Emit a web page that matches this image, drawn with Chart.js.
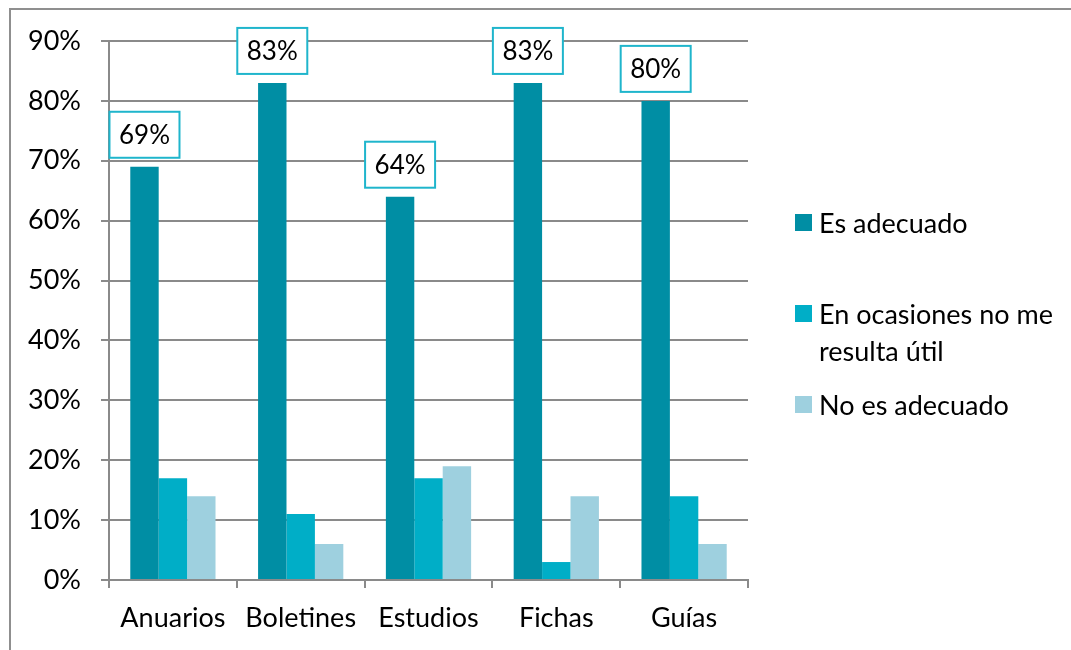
<!DOCTYPE html>
<html><head><meta charset="utf-8">
<script src="https://cdn.jsdelivr.net/npm/chart.js@4"></script>
<style>
html,body{margin:0;padding:0;background:#fff;overflow:hidden;}
#wrap{position:relative;width:1071px;height:650px;overflow:hidden;}
#frame{position:absolute;left:9px;top:8px;width:1100px;height:700px;border-left:2px solid #8f8f8f;border-top:2px solid #8f8f8f;}
#c{position:absolute;left:0;top:0;}
.lg{position:absolute;left:795px;display:flex;align-items:flex-start;font-family:Lato,sans-serif;font-size:27px;line-height:37px;color:#000;}
.lg .sw{width:17px;height:17px;margin-top:10px;margin-right:7px;flex:none;}
.lg .tx{width:260px;}
</style>
</head><body>
<div id="wrap">
<div id="frame"></div>
<canvas id="c" width="1071" height="650"></canvas>
<div id="legend"></div>
</div>
<script>
const categories = ['Anuarios','Boletines','Estudios','Fichas','Guías'];
const seriesNames = ['Es adecuado','En ocasiones no me resulta útil','No es adecuado'];
const esAdecuado = [69,83,64,83,80];
const enOcasiones = [17,11,17,3,14];
const noEsAdecuado = [14,6,19,14,6];
const yTicks = [0,10,20,30,40,50,60,70,80,90];
const colors = ['#008EA4','#00AEC7','#9ED0DF'];
const legendTops = [204,295,386];

const valueBoxPlugin = {
  id:'valueBoxes',
  afterDatasetsDraw(chart){
    const meta = chart.getDatasetMeta(0);
    const ctx = chart.ctx;
    ctx.save();
    ctx.font = '26px Lato';
    meta.data.forEach((bar,i)=>{
      const v = chart.data.datasets[0].data[i];
      const w = 70, h = 46;
      const x0 = bar.x - w/2, y0 = bar.y - 9 - h;
      ctx.fillStyle = '#fff';
      ctx.fillRect(x0,y0,w,h);
      ctx.strokeStyle = '#1FB5CC';
      ctx.lineWidth = 2;
      ctx.strokeRect(x0,y0,w,h);
      ctx.fillStyle = '#000';
      ctx.textAlign = 'center';
      ctx.textBaseline = 'middle';
      ctx.fillText(v + '%', bar.x, y0 + h/2 + 1);
    });
    ctx.restore();
  }
};

const font = {family:'Lato', size:27};
const gridColor = '#8a8a8a';
const seriesData = [esAdecuado, enOcasiones, noEsAdecuado];

const chart = new Chart(document.getElementById('c'), {
  type:'bar',
  data:{
    labels:categories,
    datasets: seriesNames.map((n,i)=>({
      label:n, data:seriesData[i], backgroundColor:colors[i],
      borderWidth:0, barPercentage:1, categoryPercentage:0.667
    }))
  },
  options:{
    responsive:false, animation:false,
    layout:{padding:{top:41,right:323,bottom:0,left:0}},
    plugins:{legend:{display:false}, tooltip:{enabled:false}},
    scales:{
      x:{
        grid:{display:true, drawOnChartArea:false, drawTicks:true, tickLength:8, color:gridColor, lineWidth:2, offset:true},
        border:{color:gridColor, width:2},
        ticks:{font, color:'#000', padding:14, maxRotation:0},
        afterFit(s){ s.height = 70; }
      },
      y:{
        min:0, max:90,
        afterBuildTicks(s){ s.ticks = yTicks.map(v=>({value:v})); },
        ticks:{font, color:'#000', padding:20, callback:v=>v+'%'},
        grid:{color:gridColor, lineWidth:2, tickLength:8},
        border:{color:gridColor, width:2},
        afterFit(s){ s.width = 109; }
      }
    }
  },
  plugins:[valueBoxPlugin]
});

const lg = document.getElementById('legend');
chart.data.datasets.forEach((ds,i)=>{
  const d = document.createElement('div');
  d.className = 'lg';
  d.style.top = legendTops[i] + 'px';
  const sw = document.createElement('div');
  sw.className = 'sw'; sw.style.background = ds.backgroundColor;
  const tx = document.createElement('div');
  tx.className = 'tx'; tx.textContent = ds.label;
  d.appendChild(sw); d.appendChild(tx);
  lg.appendChild(d);
});
</script>
</body></html>
